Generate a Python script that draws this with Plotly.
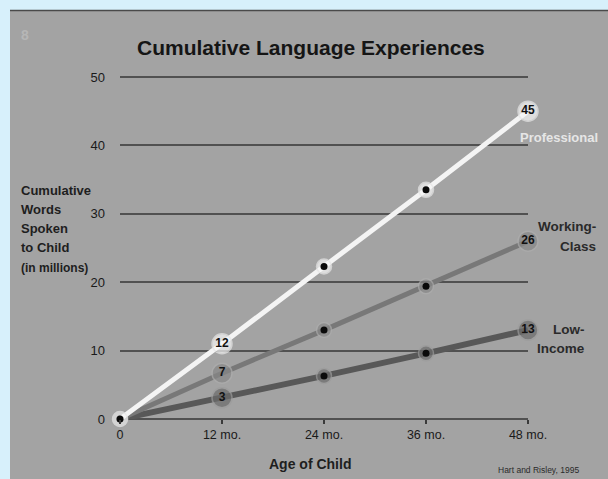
import plotly.graph_objects as go

# ---- data ----
ages = [0, 12, 24, 36, 48]
x_tick_text = ["0", "12 mo.", "24 mo.", "36 mo.", "48 mo."]
y_ticks = [0, 10, 20, 30, 40, 50]
professional = [0, 11, 22.3, 33.5, 45]
working_class = [0, 6.7, 13, 19.4, 26]
low_income = [0, 3.1, 6.3, 9.6, 13]
professional_labels = ["", "12", "", "", "45"]
working_labels = ["", "7", "", "", "26"]
low_labels = ["", "3", "", "", "13"]

# ---- layout geometry (pixels) ----
W, H = 608, 479
L, R, T, B = 120, 80, 72, 60
PW, PH = W - L - R, H - T - B
XMAX = 48
Y0_PX, Y50_PX = H - B, 77          # pixel rows of the 0 and 50 gridlines
YMAX = 50 * PH / (Y0_PX - Y50_PX)  # leave a little room above the 50 gridline
FONT = "Liberation Sans, Arial, sans-serif"


def paper_x(px):
    return (px - L) / PW


def paper_y(py):
    return (H - B - py) / PH


fig = go.Figure()

series = [
    (low_income, low_labels, "#585858", 6, "#6b6b6b", "#9c9c9c"),
    (working_class, working_labels, "#787878", 5, "#878787", "#adadad"),
    (professional, professional_labels, "#f4f4f4", 5, "#f7f7f7", "#e6e6e6"),
]

for vals, labels, lc, lw, fill, ring in series:
    fig.add_trace(go.Scatter(
        x=ages, y=vals, mode="lines",
        line=dict(color=lc, width=lw), cliponaxis=False, hoverinfo="skip",
    ))
    sizes = [20 if lab else 15 for lab in labels]
    fig.add_trace(go.Scatter(
        x=ages, y=vals, mode="markers",
        marker=dict(size=sizes, color=fill, line=dict(color=ring, width=1.5)),
        cliponaxis=False, hoverinfo="skip",
    ))
    dot_x = [a for a, lab in zip(ages, labels) if not lab]
    dot_y = [v for v, lab in zip(vals, labels) if not lab]
    fig.add_trace(go.Scatter(
        x=dot_x, y=dot_y, mode="markers",
        marker=dict(size=7, color="#0a0a0a"),
        cliponaxis=False, hoverinfo="skip",
    ))
    lab_x = [a for a, lab in zip(ages, labels) if lab]
    lab_y = [v for v, lab in zip(vals, labels) if lab]
    lab_t = [lab for lab in labels if lab]
    fig.add_trace(go.Scatter(
        x=lab_x, y=lab_y, mode="text", text=lab_t,
        textfont=dict(family=FONT, size=12, color="#111111", weight="bold"),
        textposition="middle center", cliponaxis=False, hoverinfo="skip",
    ))

annotations = []


def add_text(text, px, py, size, color="#1e1e1e", bold=True, anchor="center"):
    annotations.append(dict(
        text=text, x=paper_x(px), y=paper_y(py), xref="paper", yref="paper",
        xanchor=anchor, yanchor="middle", showarrow=False,
        font=dict(family=FONT, size=size, color=color,
                  weight="bold" if bold else "normal"),
    ))


add_text("Cumulative Language Experiences", 311, 47, 21, "#151515")
add_text("8", 25, 35, 14, "#b6b6b6")
for txt, py, sz in [("Cumulative", 190, 13), ("Words", 209, 13), ("Spoken", 228, 13),
                    ("to Child", 247, 13), ("(in millions)", 268, 12)]:
    add_text(txt, 19, py, sz, anchor="left")
add_text("Age of Child", 310, 464, 14)
add_text("Hart and Risley, 1995", 538, 470, 8.5, "#2a2a2a", bold=False)
add_text("Professional", 600, 137, 13, "#e6e6e6", anchor="right")
add_text("Working-", 598, 227, 13.5, "#2a2a2a", anchor="right")
add_text("Class", 598, 246, 13.5, "#2a2a2a", anchor="right")
add_text("Low-", 587, 329, 13.5, "#2a2a2a", anchor="right")
add_text("Income", 587, 348, 13.5, "#2a2a2a", anchor="right")

shapes = [
    dict(type="rect", xref="paper", yref="paper",
         x0=paper_x(10), x1=paper_x(W), y0=paper_y(10), y1=paper_y(H),
         fillcolor="#a3a3a3", line=dict(width=0), layer="below"),
    dict(type="line", xref="paper", yref="paper",
         x0=paper_x(10), x1=paper_x(W), y0=paper_y(10.5), y1=paper_y(10.5),
         line=dict(color="#4a4a4a", width=1.5), layer="below"),
]

fig.update_layout(
    width=W, height=H,
    margin=dict(l=L, r=R, t=T, b=B),
    paper_bgcolor="#d7f0fb",
    plot_bgcolor="rgba(0,0,0,0)",
    showlegend=False,
    annotations=annotations,
    shapes=shapes,
    xaxis=dict(
        range=[0, XMAX], tickvals=ages, ticktext=x_tick_text,
        showgrid=False, zeroline=False, showline=False,
        ticks="outside", ticklen=4, tickcolor="#3a3a3a", tickwidth=1.5,
        tickfont=dict(family=FONT, size=12.5, color="#1a1a1a"),
        fixedrange=True,
    ),
    yaxis=dict(
        range=[0, YMAX], tickvals=y_ticks,
        showgrid=True, gridcolor="#515151", gridwidth=2,
        zeroline=True, zerolinecolor="#515151", zerolinewidth=2,
        showline=False, ticks="", ticklabelstandoff=14,
        tickfont=dict(family=FONT, size=13, color="#1a1a1a"),
        fixedrange=True,
    ),
)

fig.write_html("out.html")
